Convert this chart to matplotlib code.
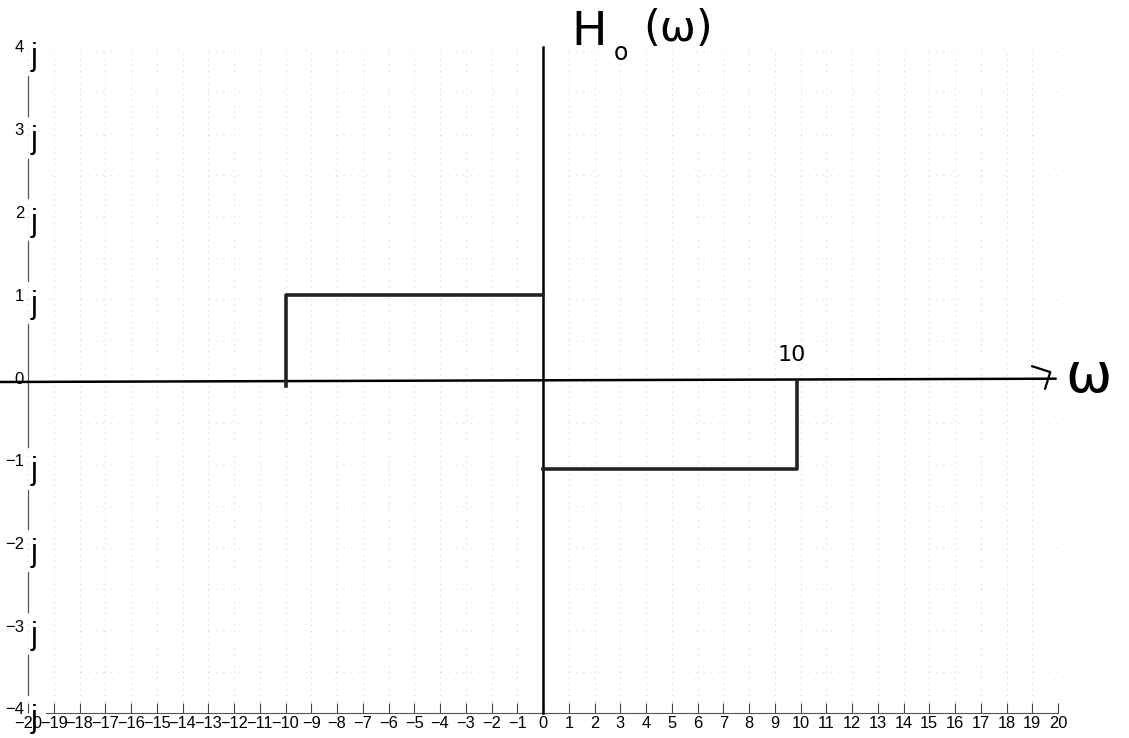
import numpy as np
import matplotlib.pyplot as plt

# frequency response H_o(w): +j on (-10, 0), -j on (0, 10)
w = [-10, -10, 0]
h_left = [-0.05, 1.05, 1.05]
w_right = [0, 9.85, 9.85]
h_right = [-1.05, -1.05, 0]

xticks = list(range(-20, 21))
yticks = list(range(-4, 5))

fig = plt.figure(figsize=(11.29, 7.38), dpi=100)
ax = fig.add_axes([28 / 1129, 25 / 738, 1030 / 1129, 662 / 738])
ax.set_xlim(-20, 20)
ax.set_ylim(-4, 4)

# faint dotted grid
for x in xticks:
    ax.axvline(x, color='#bbbbbb', lw=0.6, ls=(0, (1, 6)), zorder=0)
for y in np.arange(-4, 4.01, 0.5):
    ax.axhline(y, color='#cccccc', lw=0.6, ls=(0, (1, 8)), zorder=0)

for s in ['top', 'right', 'left']:
    ax.spines[s].set_visible(False)
ax.spines['bottom'].set_color('#555555')
ax.spines['bottom'].set_bounds(-19.3, 20)

ax.set_xticks(xticks)
ax.set_xticklabels([str(v).replace('-', '\u2212') for v in xticks],
                   fontsize=11.8, family='Liberation Sans')
ax.tick_params(axis='x', direction='in', length=7, width=0.8, color='#444444', pad=2)
ax.set_yticks([])

# y labels with j beside them, left spine broken around each j
ytr = ax.get_yaxis_transform()
for y in yticks:
    lab = str(y).replace('-', '\u2212')
    ax.annotate(lab, (0, y), xycoords=ytr, xytext=(-4, 3), textcoords='offset pixels',
                ha='right', va='center', fontsize=12, family='Liberation Sans')
    if y != 0:
        ax.annotate('j', (0, y), xycoords=ytr, xytext=(3, -6), textcoords='offset pixels',
                    ha='left', va='center', fontsize=22, family='Liberation Sans')
gaps = [(y - 0.3, y + 0.22) for y in yticks if y != 0]
segs = [(-4, 4)]
for lo, hi in gaps:
    new = []
    for a, b in segs:
        if hi <= a or lo >= b:
            new.append((a, b))
        else:
            if lo > a:
                new.append((a, lo))
            if hi < b:
                new.append((hi, b))
    segs = new
for a, b in segs:
    ax.plot([0, 0], [a, b], transform=ytr, color='#555555', lw=0.9, clip_on=False)

# hand-drawn axes
ax.plot([-21.1, 19.9], [0, 0.04], color='black', lw=1.8, clip_on=False, zorder=3)
ax.plot([0, 0], [-4, 4.05], color='black', lw=1.8, clip_on=False, zorder=3)
ax.plot([19.0, 19.7, 19.5], [0.19, 0.12, -0.08], color='black', lw=1.6, clip_on=False)

# H_o(w)
ax.plot(w, h_left, color='#222222', lw=2.6, zorder=4)
ax.plot(w_right, h_right, color='#222222', lw=2.6, zorder=4)

ax.text(1.1, 4.22, 'H', fontsize=34, ha='left', va='center', clip_on=False)
ax.text(2.75, 3.98, 'o', fontsize=17, ha='left', va='center', clip_on=False)
ax.text(3.9, 4.27, '(\u03c9)', fontsize=31, ha='left', va='center', clip_on=False)
ax.text(9.65, 0.33, '10', fontsize=16, ha='center', va='center')
ax.text(20.3, 0.06, '\u03c9', fontsize=40, ha='left', va='center', clip_on=False)

fig.savefig('out.png', dpi=100)
